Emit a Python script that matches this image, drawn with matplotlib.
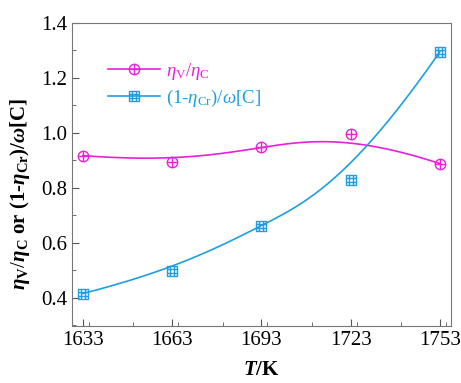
import numpy as np
import matplotlib
matplotlib.use('Agg')
import matplotlib.pyplot as plt
from matplotlib.path import Path
from matplotlib.ticker import MultipleLocator

plt.rcParams['font.family'] = 'Liberation Serif'
plt.rcParams['mathtext.fontset'] = 'custom'
plt.rcParams['mathtext.rm'] = 'Liberation Serif'
plt.rcParams['mathtext.it'] = 'Liberation Serif:italic'
plt.rcParams['mathtext.bf'] = 'Liberation Serif:bold'
plt.rcParams['mathtext.bfit'] = 'Liberation Serif:bold:italic'

# data
temps = [1633, 1663, 1693, 1723, 1753]
eta_ratio = [0.917, 0.893, 0.949, 0.995, 0.888]
cr_ratio = [0.415, 0.498, 0.662, 0.827, 1.295]

magenta = '#ea1fdc'
blue = '#1f9fe0'


def bspline(px, py, n=200):
    # clamped cubic B-spline using the data points as control points
    k = 3
    m = len(px)
    knots = np.concatenate([[0] * k, np.arange(m - k + 1), [m - k] * k]).astype(float)
    t = np.linspace(0, m - k, n)
    t[-1] -= 1e-9

    def basis(i, d, t):
        if d == 0:
            return ((knots[i] <= t) & (t < knots[i + 1])).astype(float)
        a = b = 0.0
        if knots[i + d] != knots[i]:
            a = (t - knots[i]) / (knots[i + d] - knots[i]) * basis(i, d - 1, t)
        if knots[i + d + 1] != knots[i + 1]:
            b = (knots[i + d + 1] - t) / (knots[i + d + 1] - knots[i + 1]) * basis(i + 1, d - 1, t)
        return a + b

    N = np.array([basis(i, k, t) for i in range(m)])
    return N.T @ np.asarray(px, float), N.T @ np.asarray(py, float)


# circle / square markers with a cross inside
M, L = Path.MOVETO, Path.LINETO
cross = Path([(-1, 0), (1, 0), (0, -1), (0, 1)], [M, L, M, L])
oplus = Path.make_compound_path(Path.unit_circle(), cross)
sq = Path([(-1, -1), (1, -1), (1, 1), (-1, 1), (-1, -1)], [M, L, L, L, L])
grid = Path([(-1, -0.33), (1, -0.33), (-1, 0.33), (1, 0.33),
             (-0.33, -1), (-0.33, 1), (0.33, -1), (0.33, 1)],
            [M, L, M, L, M, L, M, L])
boxplus = Path.make_compound_path(sq, grid)

fig, ax = plt.subplots(figsize=(4.61, 3.83), dpi=100)
fig.subplots_adjust(left=0.156, right=0.978, top=0.94, bottom=0.149)

for y, c, mk, lab in [(eta_ratio, magenta, oplus, r'$\eta_\mathrm{V}/\eta_\mathrm{C}$'),
                      (cr_ratio, blue, boxplus, r'(1-$\eta_\mathrm{Cr}$)/$\omega$[C]')]:
    bx, by = bspline(temps, y)
    ax.plot(bx, by, color=c, lw=1.2)
    ax.plot(temps, y, ls='none', marker=mk, ms=7.5, mfc='none', mec=c, mew=1.0)
    ax.plot([], [], color=c, lw=1.2, marker=mk, ms=7.5, mfc='none', mec=c, mew=1.0, label=lab)

ax.set_xlim(1629.3, 1756.7)
ax.set_ylim(0.297, 1.4)
ax.set_xticks(temps)
ax.xaxis.set_minor_locator(MultipleLocator(15))
ax.yaxis.set_major_locator(MultipleLocator(0.2))
ax.yaxis.set_minor_locator(MultipleLocator(0.1))
ax.tick_params(which='both', direction='in', labelsize=15, color='#555555')
ax.tick_params(which='major', length=5)
ax.tick_params(which='minor', length=3)
for s in ax.spines.values():
    s.set_color('#777777')

ax.set_xlabel(r'$\boldsymbol{T}$/K', fontsize=15, fontweight='bold', labelpad=7)
ax.set_ylabel(r'$\boldsymbol{\eta}_\mathbf{V}/\boldsymbol{\eta}_\mathbf{C}$ or (1-$\boldsymbol{\eta}_\mathbf{Cr}$)/$\boldsymbol{\omega}$[C]',
              fontsize=15, fontweight='bold')
ax.yaxis.set_label_coords(-0.105, 0.436)

leg = ax.legend(loc='upper left', bbox_to_anchor=(0.05, 0.93), frameon=False,
                fontsize=13.5, handlelength=2.8, handletextpad=0.3, labelspacing=0.3)
for t, c in zip(leg.get_texts(), [magenta, blue]):
    t.set_color(c)

fig.savefig('out.png', dpi=100)
